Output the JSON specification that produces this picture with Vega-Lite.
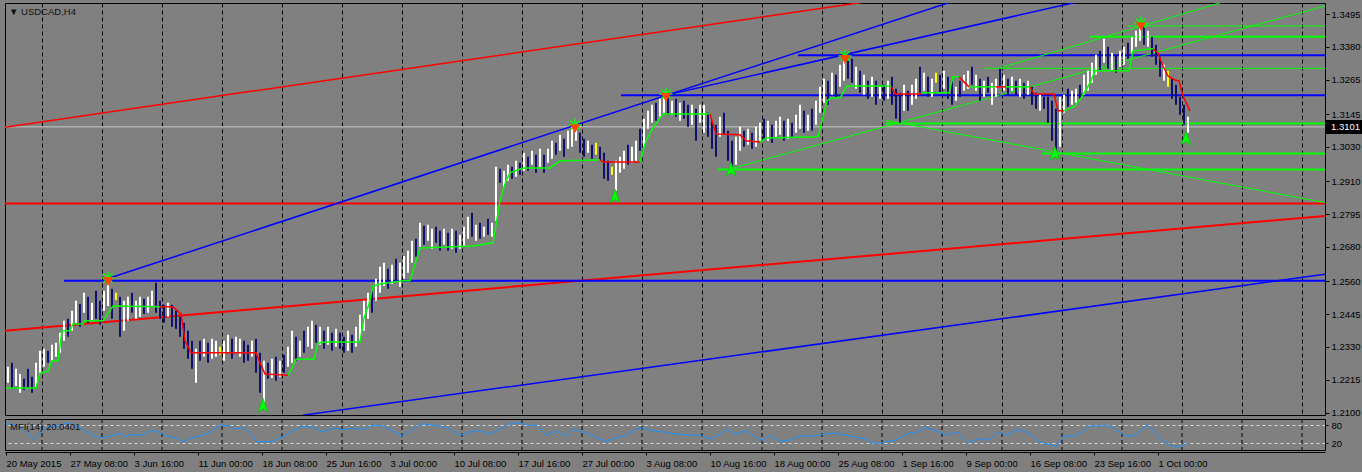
{
"$schema":"https://vega.github.io/schema/vega-lite/v6.json",
"background":"#808080",
"padding":{"left":2,"top":2,"right":5,"bottom":4},
"bounds":"flush",
"spacing":4,
"config":{"view":{"stroke":"#000000","strokeWidth":1,"fill":"#808080"},"font":"Liberation Sans","axis":{"labelFont":"Liberation Sans","labelFontSize":9.5,"labelColor":"#000000","tickColor":"#000000","domainColor":"#000000","title":null}},
"datasets":{
"bars":[
{"i":1,"p":1.2260,"p2":1.2204,"d":1},{"i":3,"p":1.2274,"p2":1.2183,"d":0},{"i":5,"p":1.2253,"p2":1.2193,"d":1},{"i":7,"p":1.2235,"p2":1.2169,"d":1},{"i":9,"p":1.2218,"p2":1.2179,"d":0},{"i":11,"p":1.2253,"p2":1.2186,"d":0},{"i":13,"p":1.2225,"p2":1.2169,"d":0},{"i":15,"p":1.2274,"p2":1.2190,"d":1},{"i":17,"p":1.2316,"p2":1.2239,"d":1},{"i":19,"p":1.2323,"p2":1.2260,"d":1},
{"i":21,"p":1.2316,"p2":1.2274,"d":0},{"i":23,"p":1.2337,"p2":1.2281,"d":1},{"i":25,"p":1.2344,"p2":1.2295,"d":1},{"i":27,"p":1.2379,"p2":1.2309,"d":1},{"i":29,"p":1.2421,"p2":1.2351,"d":1},{"i":31,"p":1.2428,"p2":1.2365,"d":0},{"i":33,"p":1.2456,"p2":1.2386,"d":1},{"i":35,"p":1.2491,"p2":1.2414,"d":1},{"i":37,"p":1.2480,"p2":1.2400,"d":0},{"i":39,"p":1.2519,"p2":1.2449,"d":1},
{"i":41,"p":1.2505,"p2":1.2414,"d":0},{"i":43,"p":1.2484,"p2":1.2421,"d":1},{"i":45,"p":1.2526,"p2":1.2428,"d":0},{"i":47,"p":1.2491,"p2":1.2407,"d":0},{"i":49,"p":1.2526,"p2":1.2456,"d":1},{"i":51,"p":1.2561,"p2":1.2473,"d":1},{"i":53,"p":1.2533,"p2":1.2428,"d":0},{"i":55,"p":1.2519,"p2":1.2494,"d":2},{"i":57,"p":1.2505,"p2":1.2365,"d":0},{"i":59,"p":1.2491,"p2":1.2386,"d":1},
{"i":61,"p":1.2505,"p2":1.2421,"d":1},{"i":63,"p":1.2519,"p2":1.2449,"d":0},{"i":65,"p":1.2491,"p2":1.2428,"d":1},{"i":67,"p":1.2505,"p2":1.2435,"d":1},{"i":69,"p":1.2498,"p2":1.2445,"d":0},{"i":71,"p":1.2505,"p2":1.2449,"d":1},{"i":73,"p":1.2526,"p2":1.2470,"d":1},{"i":75,"p":1.2554,"p2":1.2449,"d":0},{"i":77,"p":1.2491,"p2":1.2428,"d":0},{"i":79,"p":1.2477,"p2":1.2414,"d":0},
{"i":81,"p":1.2484,"p2":1.2435,"d":1},{"i":83,"p":1.2477,"p2":1.2400,"d":0},{"i":85,"p":1.2456,"p2":1.2393,"d":0},{"i":87,"p":1.2435,"p2":1.2365,"d":0},{"i":89,"p":1.2414,"p2":1.2323,"d":0},{"i":91,"p":1.2386,"p2":1.2288,"d":0},{"i":93,"p":1.2351,"p2":1.2253,"d":0},{"i":95,"p":1.2323,"p2":1.2204,"d":1},{"i":97,"p":1.2351,"p2":1.2281,"d":0},{"i":99,"p":1.2358,"p2":1.2295,"d":1},
{"i":101,"p":1.2344,"p2":1.2274,"d":0},{"i":103,"p":1.2358,"p2":1.2288,"d":1},{"i":105,"p":1.2351,"p2":1.2295,"d":1},{"i":107,"p":1.2330,"p2":1.2302,"d":2},{"i":109,"p":1.2351,"p2":1.2281,"d":1},{"i":111,"p":1.2372,"p2":1.2309,"d":1},{"i":113,"p":1.2358,"p2":1.2288,"d":0},{"i":115,"p":1.2365,"p2":1.2309,"d":1},{"i":117,"p":1.2358,"p2":1.2295,"d":1},{"i":119,"p":1.2351,"p2":1.2274,"d":0},
{"i":121,"p":1.2337,"p2":1.2281,"d":0},{"i":123,"p":1.2351,"p2":1.2295,"d":1},{"i":125,"p":1.2358,"p2":1.2239,"d":0},{"i":127,"p":1.2309,"p2":1.2169,"d":0},{"i":129,"p":1.2281,"p2":1.2127,"d":1},{"i":131,"p":1.2274,"p2":1.2218,"d":0},{"i":133,"p":1.2288,"p2":1.2221,"d":1},{"i":135,"p":1.2295,"p2":1.2211,"d":0},{"i":137,"p":1.2281,"p2":1.2225,"d":1},{"i":139,"p":1.2302,"p2":1.2239,"d":0},
{"i":141,"p":1.2330,"p2":1.2260,"d":1},{"i":143,"p":1.2386,"p2":1.2274,"d":1},{"i":145,"p":1.2365,"p2":1.2281,"d":0},{"i":147,"p":1.2351,"p2":1.2295,"d":1},{"i":149,"p":1.2386,"p2":1.2309,"d":0},{"i":151,"p":1.2400,"p2":1.2330,"d":1},{"i":153,"p":1.2421,"p2":1.2323,"d":1},{"i":155,"p":1.2407,"p2":1.2344,"d":0},{"i":157,"p":1.2400,"p2":1.2337,"d":1},{"i":159,"p":1.2386,"p2":1.2323,"d":0},
{"i":161,"p":1.2400,"p2":1.2337,"d":1},{"i":163,"p":1.2379,"p2":1.2316,"d":0},{"i":165,"p":1.2393,"p2":1.2330,"d":1},{"i":167,"p":1.2379,"p2":1.2323,"d":0},{"i":169,"p":1.2365,"p2":1.2309,"d":0},{"i":171,"p":1.2386,"p2":1.2316,"d":1},{"i":173,"p":1.2372,"p2":1.2309,"d":0},{"i":175,"p":1.2400,"p2":1.2330,"d":1},{"i":177,"p":1.2442,"p2":1.2351,"d":1},{"i":179,"p":1.2491,"p2":1.2386,"d":1},
{"i":181,"p":1.2519,"p2":1.2428,"d":1},{"i":183,"p":1.2526,"p2":1.2449,"d":0},{"i":185,"p":1.2568,"p2":1.2491,"d":1},{"i":187,"p":1.2610,"p2":1.2519,"d":1},{"i":189,"p":1.2624,"p2":1.2543,"d":1},{"i":191,"p":1.2603,"p2":1.2533,"d":0},{"i":193,"p":1.2617,"p2":1.2550,"d":1},{"i":195,"p":1.2638,"p2":1.2561,"d":0},{"i":197,"p":1.2624,"p2":1.2540,"d":1},{"i":199,"p":1.2648,"p2":1.2568,"d":1},
{"i":201,"p":1.2666,"p2":1.2589,"d":1},{"i":203,"p":1.2701,"p2":1.2624,"d":1},{"i":205,"p":1.2708,"p2":1.2645,"d":0},{"i":207,"p":1.2764,"p2":1.2680,"d":1},{"i":209,"p":1.2754,"p2":1.2687,"d":0},{"i":211,"p":1.2757,"p2":1.2701,"d":1},{"i":213,"p":1.2743,"p2":1.2673,"d":1},{"i":215,"p":1.2750,"p2":1.2694,"d":0},{"i":217,"p":1.2736,"p2":1.2666,"d":0},{"i":219,"p":1.2743,"p2":1.2687,"d":1},
{"i":221,"p":1.2729,"p2":1.2666,"d":0},{"i":223,"p":1.2743,"p2":1.2673,"d":1},{"i":225,"p":1.2736,"p2":1.2659,"d":0},{"i":227,"p":1.2722,"p2":1.2673,"d":1},{"i":229,"p":1.2750,"p2":1.2680,"d":1},{"i":231,"p":1.2785,"p2":1.2708,"d":1},{"i":233,"p":1.2799,"p2":1.2715,"d":0},{"i":235,"p":1.2757,"p2":1.2701,"d":1},{"i":237,"p":1.2764,"p2":1.2708,"d":0},{"i":239,"p":1.2750,"p2":1.2715,"d":1},
{"i":241,"p":1.2778,"p2":1.2722,"d":0},{"i":243,"p":1.2764,"p2":1.2715,"d":1},{"i":245,"p":1.2960,"p2":1.2771,"d":1},{"i":247,"p":1.2953,"p2":1.2904,"d":0},{"i":249,"p":1.2946,"p2":1.2890,"d":1},{"i":251,"p":1.2967,"p2":1.2911,"d":1},{"i":253,"p":1.2960,"p2":1.2918,"d":0},{"i":255,"p":1.2981,"p2":1.2925,"d":1},{"i":257,"p":1.2974,"p2":1.2932,"d":0},{"i":259,"p":1.3009,"p2":1.2946,"d":1},
{"i":261,"p":1.2995,"p2":1.2946,"d":0},{"i":263,"p":1.3016,"p2":1.2967,"d":1},{"i":265,"p":1.3002,"p2":1.2939,"d":0},{"i":267,"p":1.3023,"p2":1.2960,"d":1},{"i":269,"p":1.3002,"p2":1.2939,"d":0},{"i":271,"p":1.3023,"p2":1.2974,"d":1},{"i":273,"p":1.3051,"p2":1.2988,"d":1},{"i":275,"p":1.3044,"p2":1.3002,"d":0},{"i":277,"p":1.3072,"p2":1.3016,"d":1},{"i":279,"p":1.3058,"p2":1.2995,"d":0},
{"i":281,"p":1.3086,"p2":1.3023,"d":1},{"i":283,"p":1.3100,"p2":1.3030,"d":1},{"i":285,"p":1.3114,"p2":1.3051,"d":1},{"i":287,"p":1.3079,"p2":1.3009,"d":0},{"i":289,"p":1.3058,"p2":1.2995,"d":0},{"i":291,"p":1.3051,"p2":1.3009,"d":1},{"i":293,"p":1.3037,"p2":1.2988,"d":0},{"i":295,"p":1.3044,"p2":1.3002,"d":2},{"i":297,"p":1.3030,"p2":1.2981,"d":0},{"i":299,"p":1.3009,"p2":1.2918,"d":0},
{"i":301,"p":1.2981,"p2":1.2911,"d":0},{"i":303,"p":1.2960,"p2":1.2932,"d":2},{"i":305,"p":1.2981,"p2":1.2876,"d":1},{"i":307,"p":1.2995,"p2":1.2939,"d":1},{"i":309,"p":1.3016,"p2":1.2953,"d":1},{"i":311,"p":1.3037,"p2":1.2967,"d":0},{"i":313,"p":1.3030,"p2":1.2974,"d":1},{"i":315,"p":1.3051,"p2":1.2981,"d":1},{"i":317,"p":1.3093,"p2":1.3016,"d":0},{"i":319,"p":1.3128,"p2":1.3030,"d":1},
{"i":321,"p":1.3156,"p2":1.3093,"d":1},{"i":323,"p":1.3177,"p2":1.3114,"d":1},{"i":325,"p":1.3184,"p2":1.3121,"d":0},{"i":327,"p":1.3198,"p2":1.3135,"d":1},{"i":329,"p":1.3219,"p2":1.3149,"d":1},{"i":331,"p":1.3205,"p2":1.3142,"d":0},{"i":333,"p":1.3191,"p2":1.3142,"d":1},{"i":335,"p":1.3198,"p2":1.3135,"d":0},{"i":337,"p":1.3184,"p2":1.3121,"d":1},{"i":339,"p":1.3191,"p2":1.3128,"d":0},
{"i":341,"p":1.3177,"p2":1.3100,"d":0},{"i":343,"p":1.3177,"p2":1.3107,"d":1},{"i":345,"p":1.3163,"p2":1.3051,"d":0},{"i":347,"p":1.3177,"p2":1.3114,"d":1},{"i":349,"p":1.3177,"p2":1.3079,"d":1},{"i":351,"p":1.3149,"p2":1.3065,"d":0},{"i":353,"p":1.3121,"p2":1.3023,"d":0},{"i":355,"p":1.3107,"p2":1.2995,"d":0},{"i":357,"p":1.3135,"p2":1.3065,"d":1},{"i":359,"p":1.3149,"p2":1.3072,"d":0},
{"i":361,"p":1.3086,"p2":1.2981,"d":0},{"i":363,"p":1.3051,"p2":1.2960,"d":0},{"i":365,"p":1.3065,"p2":1.2967,"d":1},{"i":367,"p":1.3100,"p2":1.3016,"d":1},{"i":369,"p":1.3086,"p2":1.3030,"d":0},{"i":371,"p":1.3093,"p2":1.3037,"d":1},{"i":373,"p":1.3079,"p2":1.3023,"d":0},{"i":375,"p":1.3100,"p2":1.3030,"d":1},{"i":377,"p":1.3114,"p2":1.3051,"d":1},{"i":379,"p":1.3128,"p2":1.3058,"d":0},
{"i":381,"p":1.3121,"p2":1.3051,"d":1},{"i":383,"p":1.3107,"p2":1.3044,"d":0},{"i":385,"p":1.3121,"p2":1.3065,"d":1},{"i":387,"p":1.3135,"p2":1.3072,"d":1},{"i":389,"p":1.3121,"p2":1.3051,"d":0},{"i":391,"p":1.3128,"p2":1.3058,"d":1},{"i":393,"p":1.3114,"p2":1.3065,"d":0},{"i":395,"p":1.3142,"p2":1.3079,"d":1},{"i":397,"p":1.3177,"p2":1.3093,"d":1},{"i":399,"p":1.3156,"p2":1.3079,"d":0},
{"i":401,"p":1.3142,"p2":1.3086,"d":1},{"i":403,"p":1.3163,"p2":1.3086,"d":0},{"i":405,"p":1.3191,"p2":1.3107,"d":1},{"i":407,"p":1.3240,"p2":1.3149,"d":1},{"i":409,"p":1.3268,"p2":1.3184,"d":1},{"i":411,"p":1.3261,"p2":1.3177,"d":0},{"i":413,"p":1.3289,"p2":1.3212,"d":1},{"i":415,"p":1.3282,"p2":1.3205,"d":0},{"i":417,"p":1.3317,"p2":1.3240,"d":1},{"i":419,"p":1.3348,"p2":1.3261,"d":1},
{"i":421,"p":1.3331,"p2":1.3268,"d":0},{"i":423,"p":1.3338,"p2":1.3254,"d":0},{"i":425,"p":1.3310,"p2":1.3233,"d":1},{"i":427,"p":1.3296,"p2":1.3219,"d":0},{"i":429,"p":1.3282,"p2":1.3212,"d":1},{"i":431,"p":1.3261,"p2":1.3198,"d":0},{"i":433,"p":1.3275,"p2":1.3205,"d":1},{"i":435,"p":1.3261,"p2":1.3177,"d":0},{"i":437,"p":1.3240,"p2":1.3198,"d":1},{"i":439,"p":1.3247,"p2":1.3191,"d":0},
{"i":441,"p":1.3261,"p2":1.3198,"d":1},{"i":443,"p":1.3275,"p2":1.3177,"d":0},{"i":445,"p":1.3233,"p2":1.3128,"d":0},{"i":447,"p":1.3219,"p2":1.3114,"d":0},{"i":449,"p":1.3247,"p2":1.3156,"d":1},{"i":451,"p":1.3226,"p2":1.3156,"d":0},{"i":453,"p":1.3247,"p2":1.3177,"d":1},{"i":455,"p":1.3268,"p2":1.3198,"d":1},{"i":457,"p":1.3310,"p2":1.3219,"d":0},{"i":459,"p":1.3289,"p2":1.3226,"d":1},
{"i":461,"p":1.3275,"p2":1.3205,"d":0},{"i":463,"p":1.3268,"p2":1.3205,"d":1},{"i":465,"p":1.3289,"p2":1.3254,"d":2},{"i":467,"p":1.3282,"p2":1.3219,"d":0},{"i":469,"p":1.3296,"p2":1.3233,"d":1},{"i":471,"p":1.3275,"p2":1.3198,"d":0},{"i":473,"p":1.3261,"p2":1.3177,"d":0},{"i":475,"p":1.3240,"p2":1.3191,"d":1},{"i":477,"p":1.3261,"p2":1.3205,"d":0},{"i":479,"p":1.3282,"p2":1.3226,"d":1},
{"i":481,"p":1.3296,"p2":1.3233,"d":1},{"i":483,"p":1.3310,"p2":1.3247,"d":0},{"i":485,"p":1.3282,"p2":1.3226,"d":1},{"i":487,"p":1.3268,"p2":1.3191,"d":0},{"i":489,"p":1.3261,"p2":1.3205,"d":1},{"i":491,"p":1.3275,"p2":1.3219,"d":0},{"i":493,"p":1.3254,"p2":1.3177,"d":1},{"i":495,"p":1.3268,"p2":1.3205,"d":1},{"i":497,"p":1.3303,"p2":1.3240,"d":0},{"i":499,"p":1.3282,"p2":1.3226,"d":1},
{"i":501,"p":1.3268,"p2":1.3212,"d":0},{"i":503,"p":1.3275,"p2":1.3226,"d":1},{"i":505,"p":1.3261,"p2":1.3212,"d":0},{"i":507,"p":1.3268,"p2":1.3205,"d":1},{"i":509,"p":1.3254,"p2":1.3198,"d":0},{"i":511,"p":1.3261,"p2":1.3212,"d":1},{"i":513,"p":1.3240,"p2":1.3177,"d":0},{"i":515,"p":1.3219,"p2":1.3163,"d":0},{"i":517,"p":1.3212,"p2":1.3156,"d":1},{"i":519,"p":1.3205,"p2":1.3163,"d":0},
{"i":521,"p":1.3205,"p2":1.3114,"d":0},{"i":523,"p":1.3191,"p2":1.3051,"d":0},{"i":525,"p":1.3163,"p2":1.3016,"d":0},{"i":527,"p":1.3205,"p2":1.3030,"d":1},{"i":529,"p":1.3212,"p2":1.3149,"d":1},{"i":531,"p":1.3233,"p2":1.3170,"d":0},{"i":533,"p":1.3226,"p2":1.3177,"d":1},{"i":535,"p":1.3233,"p2":1.3184,"d":1},{"i":537,"p":1.3247,"p2":1.3198,"d":0},{"i":539,"p":1.3282,"p2":1.3212,"d":1},
{"i":541,"p":1.3296,"p2":1.3226,"d":1},{"i":543,"p":1.3324,"p2":1.3254,"d":1},{"i":545,"p":1.3352,"p2":1.3282,"d":1},{"i":547,"p":1.3366,"p2":1.3296,"d":0},{"i":549,"p":1.3408,"p2":1.3324,"d":1},{"i":551,"p":1.3380,"p2":1.3303,"d":0},{"i":553,"p":1.3359,"p2":1.3296,"d":1},{"i":555,"p":1.3352,"p2":1.3289,"d":0},{"i":557,"p":1.3366,"p2":1.3310,"d":1},{"i":559,"p":1.3380,"p2":1.3317,"d":1},
{"i":561,"p":1.3394,"p2":1.3338,"d":0},{"i":563,"p":1.3415,"p2":1.3359,"d":1},{"i":565,"p":1.3436,"p2":1.3380,"d":1},{"i":567,"p":1.3463,"p2":1.3401,"d":1},{"i":569,"p":1.3453,"p2":1.3387,"d":0},{"i":571,"p":1.3436,"p2":1.3380,"d":1},{"i":573,"p":1.3415,"p2":1.3345,"d":0},{"i":575,"p":1.3387,"p2":1.3317,"d":0},{"i":577,"p":1.3345,"p2":1.3275,"d":0},{"i":579,"p":1.3317,"p2":1.3261,"d":1},
{"i":581,"p":1.3296,"p2":1.3240,"d":2},{"i":583,"p":1.3268,"p2":1.3198,"d":0},{"i":585,"p":1.3247,"p2":1.3177,"d":0},{"i":587,"p":1.3205,"p2":1.3142,"d":0},{"i":589,"p":1.3177,"p2":1.3107,"d":0},{"i":591,"p":1.3135,"p2":1.3079,"d":1}
],
"ind":[
{"i":0,"p":1.2186,"s":1,"t":"up"},{"i":15,"p":1.2186,"s":1,"t":"up"},{"i":17,"p":1.2238,"s":1,"t":"up"},{"i":21,"p":1.2245,"s":1,"t":"up"},{"i":23,"p":1.2281,"s":1,"t":"up"},{"i":26,"p":1.2281,"s":1,"t":"up"},{"i":28,"p":1.2386,"s":1,"t":"up"},{"i":32,"p":1.2386,"s":1,"t":"up"},{"i":33.5,"p":1.2410,"s":1,"t":"up"},{"i":38.5,"p":1.2410,"s":1,"t":"up"},{"i":39.5,"p":1.2421,"s":1,"t":"up"},{"i":48.5,"p":1.2421,"s":1,"t":"up"},{"i":53.5,"p":1.2473,"s":1,"t":"up"},{"i":77,"p":1.2470,"s":1,"t":"up"},
{"i":77,"p":1.2470,"s":2,"t":"down"},{"i":83.5,"p":1.2470,"s":2,"t":"down"},{"i":87.5,"p":1.2445,"s":2,"t":"down"},{"i":89.5,"p":1.2351,"s":2,"t":"down"},{"i":92.5,"p":1.2309,"s":2,"t":"down"},{"i":125,"p":1.2309,"s":2,"t":"down"},{"i":127,"p":1.2274,"s":2,"t":"down"},{"i":129.5,"p":1.2235,"s":2,"t":"down"},{"i":141,"p":1.2231,"s":2,"t":"down"},
{"i":141,"p":1.2231,"s":3,"t":"up"},{"i":143,"p":1.2256,"s":3,"t":"up"},{"i":145,"p":1.2287,"s":3,"t":"up"},{"i":154,"p":1.2287,"s":3,"t":"up"},{"i":156,"p":1.2343,"s":3,"t":"up"},{"i":159.5,"p":1.2347,"s":3,"t":"up"},{"i":177,"p":1.2347,"s":3,"t":"up"},{"i":179,"p":1.2431,"s":3,"t":"up"},{"i":181.5,"p":1.2480,"s":3,"t":"up"},{"i":183.5,"p":1.2543,"s":3,"t":"up"},{"i":187,"p":1.2550,"s":3,"t":"up"},{"i":198.5,"p":1.2561,"s":3,"t":"up"},{"i":202,"p":1.2561,"s":3,"t":"up"},{"i":207,"p":1.2676,"s":3,"t":"up"},{"i":233.5,"p":1.2683,"s":3,"t":"up"},{"i":243.5,"p":1.2694,"s":3,"t":"up"},{"i":247,"p":1.2841,"s":3,"t":"up"},{"i":250,"p":1.2911,"s":3,"t":"up"},{"i":252,"p":1.2939,"s":3,"t":"up"},{"i":258.5,"p":1.2956,"s":3,"t":"up"},{"i":272,"p":1.2956,"s":3,"t":"up"},{"i":277,"p":1.2981,"s":3,"t":"up"},{"i":297,"p":1.2984,"s":3,"t":"up"},
{"i":297,"p":1.2984,"s":4,"t":"down"},{"i":298.5,"p":1.2977,"s":4,"t":"down"},{"i":317,"p":1.2977,"s":4,"t":"down"},
{"i":317,"p":1.2977,"s":5,"t":"up"},{"i":320,"p":1.3051,"s":5,"t":"up"},{"i":323.5,"p":1.3096,"s":5,"t":"up"},{"i":326,"p":1.3121,"s":5,"t":"up"},{"i":328.5,"p":1.3145,"s":5,"t":"up"},{"i":352,"p":1.3145,"s":5,"t":"up"},
{"i":352,"p":1.3145,"s":6,"t":"down"},{"i":355,"p":1.3075,"s":6,"t":"down"},{"i":367,"p":1.3072,"s":6,"t":"down"},{"i":370,"p":1.3051,"s":6,"t":"down"},{"i":377,"p":1.3047,"s":6,"t":"down"},
{"i":377,"p":1.3047,"s":7,"t":"up"},{"i":380,"p":1.3061,"s":7,"t":"up"},{"i":406,"p":1.3065,"s":7,"t":"up"},{"i":410.5,"p":1.3191,"s":7,"t":"up"},{"i":412.5,"p":1.3201,"s":7,"t":"up"},{"i":417,"p":1.3201,"s":7,"t":"up"},{"i":420.5,"p":1.3243,"s":7,"t":"up"},{"i":442.5,"p":1.3243,"s":7,"t":"up"},
{"i":442.5,"p":1.3243,"s":8,"t":"down"},{"i":444.5,"p":1.3215,"s":8,"t":"down"},{"i":458,"p":1.3215,"s":8,"t":"down"},
{"i":458,"p":1.3219,"s":9,"t":"up"},{"i":471.5,"p":1.3219,"s":9,"t":"up"},{"i":473.5,"p":1.3275,"s":9,"t":"up"},{"i":476.5,"p":1.3275,"s":9,"t":"up"},
{"i":476.5,"p":1.3275,"s":10,"t":"down"},{"i":478.5,"p":1.3261,"s":10,"t":"down"},{"i":481.5,"p":1.3240,"s":10,"t":"down"},
{"i":481.5,"p":1.3240,"s":11,"t":"up"},{"i":495,"p":1.3240,"s":11,"t":"up"},
{"i":495,"p":1.3240,"s":12,"t":"down"},{"i":500,"p":1.3240,"s":12,"t":"down"},
{"i":500,"p":1.3240,"s":13,"t":"up"},{"i":512,"p":1.3240,"s":13,"t":"up"},
{"i":512,"p":1.3240,"s":14,"t":"down"},{"i":514,"p":1.3215,"s":14,"t":"down"},{"i":524,"p":1.3215,"s":14,"t":"down"},{"i":526,"p":1.3156,"s":14,"t":"down"},{"i":529,"p":1.3156,"s":14,"t":"down"},
{"i":529,"p":1.3156,"s":15,"t":"up"},{"i":534.5,"p":1.3173,"s":15,"t":"up"},{"i":537.5,"p":1.3201,"s":15,"t":"up"},{"i":540.5,"p":1.3236,"s":15,"t":"up"},{"i":542.5,"p":1.3261,"s":15,"t":"up"},{"i":544.5,"p":1.3296,"s":15,"t":"up"},{"i":561.5,"p":1.3296,"s":15,"t":"up"},{"i":563.5,"p":1.3366,"s":15,"t":"up"},{"i":573.5,"p":1.3373,"s":15,"t":"up"},
{"i":573.5,"p":1.3373,"s":16,"t":"down"},{"i":576,"p":1.3359,"s":16,"t":"down"},{"i":578.5,"p":1.3313,"s":16,"t":"down"},{"i":581,"p":1.3278,"s":16,"t":"down"},{"i":584.5,"p":1.3264,"s":16,"t":"down"},{"i":586.5,"p":1.3261,"s":16,"t":"down"},{"i":588.5,"p":1.3208,"s":16,"t":"down"},{"i":592,"p":1.3156,"s":16,"t":"down"}
],
"grid":[{"i":18},{"i":48},{"i":78},{"i":108},{"i":138},{"i":168},{"i":198},{"i":228},{"i":258},{"i":288},{"i":318},{"i":348},{"i":378},{"i":408},{"i":438},{"i":468},{"i":498},{"i":528},{"i":558},{"i":588},{"i":618},{"i":648}],
"redThick":[{"i":-0.5,"p":1.2832,"i2":659.5,"p2":1.2832},{"i":-0.5,"p":1.2386,"i2":659.5,"p2":1.2788}],
"redThin":[{"i":-0.5,"p":1.3099,"i2":450,"p2":1.3558}],
"blueThick":[{"i":307.5,"p":1.3211,"i2":659.5,"p2":1.3211},{"i":396,"p":1.3351,"i2":659.5,"p2":1.3351},{"i":29,"p":1.2561,"i2":659.5,"p2":1.2561}],
"blueThin":[{"i":51,"p":1.2569,"i2":475,"p2":1.3543},{"i":330,"p":1.3211,"i2":545,"p2":1.3552},{"i":148.5,"p":1.2091,"i2":659.5,"p2":1.2584}],
"greenThick":[{"i":440,"p":1.3112,"i2":659.5,"p2":1.3112},{"i":518,"p":1.3007,"i2":659.5,"p2":1.3007},{"i":356,"p":1.2951,"i2":659.5,"p2":1.2951},{"i":542,"p":1.3415,"i2":659.5,"p2":1.3415}],
"greenThin":[{"i":489,"p":1.3305,"i2":659.5,"p2":1.3305},{"i":561,"p":1.3453,"i2":659.5,"p2":1.3453},{"i":360,"p":1.2949,"i2":659.5,"p2":1.3523},{"i":497,"p":1.3306,"i2":620,"p2":1.3561},{"i":440,"p":1.3123,"i2":659.5,"p2":1.2835}],
"gray":[{"i":-0.5,"p":1.3100,"i2":659.5,"p2":1.3100}],
"stars":[{"i":51,"p":1.2571},{"i":284.5,"p":1.3106},{"i":330,"p":1.3215},{"i":419.5,"p":1.3348},{"i":567.5,"p":1.3463}],
"arrows":[{"i":128.5,"p":1.2126},{"i":304.5,"p":1.2858},{"i":362.5,"p":1.2952},{"i":524.5,"p":1.3008},{"i":590,"p":1.3061}],
"mfi":[{"i":0,"m":85},{"i":3.5,"m":83},{"i":8.5,"m":68},{"i":13.5,"m":34},{"i":17,"m":51},{"i":20,"m":74},{"i":23.5,"m":77},{"i":28.5,"m":84},{"i":32,"m":88},{"i":37,"m":71},{"i":42,"m":51},{"i":47,"m":38},{"i":52,"m":44},{"i":57,"m":54},{"i":59.5,"m":40},{"i":62,"m":50},{"i":68.5,"m":47},{"i":72,"m":61},{"i":75,"m":62},{"i":80,"m":45},{"i":85,"m":38},{"i":88.5,"m":25},{"i":92,"m":38},{"i":97,"m":44},{"i":102,"m":58},{"i":107,"m":81},{"i":112,"m":78},{"i":115,"m":67},{"i":118.5,"m":74},{"i":122,"m":56},{"i":125,"m":27},{"i":130,"m":24},{"i":135,"m":31},{"i":140,"m":48},{"i":143.5,"m":62},{"i":148.5,"m":77},{"i":153.5,"m":74},{"i":158.5,"m":58},{"i":163.5,"m":71},{"i":168.5,"m":66},{"i":173.5,"m":71},{"i":178.5,"m":66},{"i":183.5,"m":81},{"i":188.5,"m":78},{"i":193.5,"m":61},{"i":198.5,"m":44},{"i":203.5,"m":67},{"i":207.5,"m":85},{"i":212,"m":81},{"i":217,"m":78},{"i":222,"m":67},{"i":227,"m":47},{"i":232,"m":58},{"i":237,"m":62},{"i":242,"m":51},{"i":247,"m":67},{"i":252,"m":85},{"i":257,"m":88},{"i":262,"m":78},{"i":265,"m":81},{"i":270,"m":47},{"i":275,"m":61},{"i":280,"m":44},{"i":283.5,"m":67},{"i":288.5,"m":58},{"i":293.5,"m":44},{"i":300,"m":27},{"i":305,"m":38},{"i":310,"m":48},{"i":315,"m":67},{"i":318.5,"m":71},{"i":323.5,"m":61},{"i":328.5,"m":58},{"i":335,"m":51},{"i":342,"m":47},{"i":347,"m":47},{"i":352,"m":34},{"i":357,"m":51},{"i":360,"m":67},{"i":365,"m":51},{"i":370,"m":62},{"i":375,"m":40},{"i":378.5,"m":29},{"i":382,"m":47},{"i":387,"m":27},{"i":392,"m":31},{"i":397,"m":44},{"i":404,"m":44},{"i":409,"m":51},{"i":414.5,"m":54},{"i":420,"m":47},{"i":425.5,"m":40},{"i":431,"m":31},{"i":434.5,"m":18},{"i":439.5,"m":24},{"i":445,"m":31},{"i":450.5,"m":51},{"i":456,"m":58},{"i":459.5,"m":74},{"i":465,"m":62},{"i":470,"m":48},{"i":475.5,"m":58},{"i":481,"m":22},{"i":486.5,"m":35},{"i":491.5,"m":31},{"i":496,"m":58},{"i":500.5,"m":47},{"i":506,"m":67},{"i":511.5,"m":54},{"i":517,"m":24},{"i":524,"m":13},{"i":525.5,"m":11},{"i":528.5,"m":44},{"i":534.5,"m":44},{"i":538.5,"m":61},{"i":542,"m":78},{"i":547,"m":78},{"i":552.5,"m":78},{"i":556,"m":61},{"i":560,"m":44},{"i":565,"m":47},{"i":570.5,"m":81},{"i":574,"m":62},{"i":577.5,"m":31},{"i":583,"m":11},{"i":586,"m":8},{"i":588.5,"m":13},{"i":591,"m":20}]
},
"vconcat":[
{
"width":1320,"height":412,
"resolve":{"scale":{"color":"independent"}},
"encoding":{
"x":{"field":"i","type":"quantitative","scale":{"domain":[-0.5,659.5],"nice":false,"zero":false},"axis":{"orient":"bottom","values":[18,48,78,108,138,168,198,228,258,288,318,348,378,408,438,468,498,528,558,588,618,648],"grid":true,"gridColor":"#000000","gridDash":[4,3],"gridWidth":1,"labels":false,"ticks":false,"domain":false}},
"y":{"field":"p","type":"quantitative","scale":{"domain":[1.20915,1.35335],"nice":false,"zero":false},"axis":{"orient":"right","values":[1.21,1.2215,1.233,1.2445,1.256,1.268,1.2795,1.291,1.303,1.3145,1.3265,1.338,1.3495],"format":".4f","tickSize":4,"labelPadding":2,"domain":false,"grid":false,"labelFlush":false,"labelOverlap":false,"labelBound":false}}
},
"layer":[
{"data":{"name":"gray"},"mark":{"type":"rule","color":"#C8C8C8","strokeWidth":1,"clip":true},"encoding":{"x2":{"field":"i2"},"y2":{"field":"p2"}}},
{"data":{"name":"redThin"},"mark":{"type":"rule","color":"#FF0000","strokeWidth":1.5,"clip":true},"encoding":{"x2":{"field":"i2"},"y2":{"field":"p2"}}},
{"data":{"name":"redThick"},"mark":{"type":"rule","color":"#FF0000","strokeWidth":2,"clip":true},"encoding":{"x2":{"field":"i2"},"y2":{"field":"p2"}}},
{"data":{"name":"blueThin"},"mark":{"type":"rule","color":"#0000FF","strokeWidth":1.5,"clip":true},"encoding":{"x2":{"field":"i2"},"y2":{"field":"p2"}}},
{"data":{"name":"blueThick"},"mark":{"type":"rule","color":"#0000FF","strokeWidth":2,"clip":true},"encoding":{"x2":{"field":"i2"},"y2":{"field":"p2"}}},
{"data":{"name":"greenThin"},"mark":{"type":"rule","color":"#00FF00","strokeWidth":1,"clip":true},"encoding":{"x2":{"field":"i2"},"y2":{"field":"p2"}}},
{"data":{"name":"greenThick"},"mark":{"type":"rule","color":"#00FF00","strokeWidth":2,"clip":true},"encoding":{"x2":{"field":"i2"},"y2":{"field":"p2"}}},
{"data":{"name":"bars"},"mark":{"type":"rule","strokeWidth":2},"encoding":{"y2":{"field":"p2"},"color":{"field":"d","type":"nominal","scale":{"domain":[0,1,2],"range":["#10106E","#FFFFFF","#FFFF00"]},"legend":null}}},
{"data":{"name":"ind"},"mark":{"type":"line","strokeWidth":1.5},"encoding":{"detail":{"field":"s","type":"nominal"},"stroke":{"field":"t","type":"nominal","scale":{"domain":["up","down"],"range":["#00FF00","#FF0000"]},"legend":null}}},
{"data":{"name":"stars"},"mark":{"type":"point","shape":"M0,-1L0,1M-1,0L1,0M-0.7,-0.7L0.7,0.7M-0.7,0.7L0.7,-0.7","filled":false,"stroke":"#00FF00","strokeWidth":1.5,"size":170,"opacity":1}},
{"data":{"name":"stars"},"mark":{"type":"point","shape":"triangle-down","filled":true,"fill":"#FF4500","stroke":"#FF4500","size":45,"yOffset":3,"opacity":1}},
{"data":{"name":"arrows"},"mark":{"type":"point","shape":"M0,-1L0.7,1L0,0.5L-0.7,1Z","filled":true,"fill":"#00FF00","stroke":"#00B000","strokeWidth":0.5,"size":200,"opacity":1}},
{"data":{"values":[{"i":1.5,"p":1.3502,"txt":"▼ USDCAD,H4"}]},"mark":{"type":"text","align":"left","baseline":"middle","font":"Liberation Sans","fontSize":9.5,"color":"#101010"},"encoding":{"text":{"field":"txt"}}},
{"data":{"values":[{"i":660,"i2":679.5,"p":1.3124,"p2":1.3075}]},"mark":{"type":"rect","color":"#000000","clip":false},"encoding":{"x2":{"field":"i2"},"y2":{"field":"p2"}}},
{"data":{"values":[{"i":662.5,"p":1.3100,"txt":"1.3101"}]},"mark":{"type":"text","align":"left","baseline":"middle","font":"Liberation Sans","fontSize":9.5,"color":"#FFFFFF","clip":false},"encoding":{"text":{"field":"txt"}}}
]
},
{
"width":1320,"height":31,
"encoding":{
"x":{"field":"i","type":"quantitative","scale":{"domain":[-0.5,659.5],"nice":false,"zero":false},"axis":{"orient":"bottom","values":[0,32,64,96,128,160,192,224,256,288,320,352,384,416,448,480,512,544,576],"labelExpr":"['20 May 2015','27 May 08:00','3 Jun 16:00','11 Jun 00:00','18 Jun 08:00','25 Jun 16:00','3 Jul 00:00','10 Jul 08:00','17 Jul 16:00','27 Jul 00:00','3 Aug 08:00','10 Aug 16:00','18 Aug 00:00','25 Aug 08:00','1 Sep 16:00','9 Sep 00:00','16 Sep 08:00','23 Sep 16:00','1 Oct 00:00'][round(datum.value/32)]","labelAlign":"left","labelFlush":false,"labelOverlap":false,"labelBound":false,"tickSize":3,"labelPadding":3,"offset":2,"domain":true,"grid":false}}
},
"layer":[
{"data":{"name":"grid"},"mark":{"type":"rule","color":"#000000","strokeDash":[4,3],"strokeWidth":1}},
{"data":{"name":"mfi"},"mark":{"type":"line","color":"#1E90FF","strokeWidth":1},"encoding":{"y":{"field":"m","type":"quantitative","scale":{"domain":[-2.3,101],"nice":false,"zero":false},"axis":{"orient":"right","values":[20,80],"grid":true,"gridColor":"#D8D8D8","gridDash":[3,3],"tickSize":3,"labelPadding":3,"domain":false}}}},
{"data":{"values":[{"i":2,"m":74,"txt":"MFI(14) 20.0401"}]},"mark":{"type":"text","align":"left","baseline":"middle","font":"Liberation Sans","fontSize":9.5,"color":"#101010"},"encoding":{"y":{"field":"m","type":"quantitative","scale":{"domain":[-2.3,101],"nice":false,"zero":false}},"text":{"field":"txt"}}}
]
}
]
}
